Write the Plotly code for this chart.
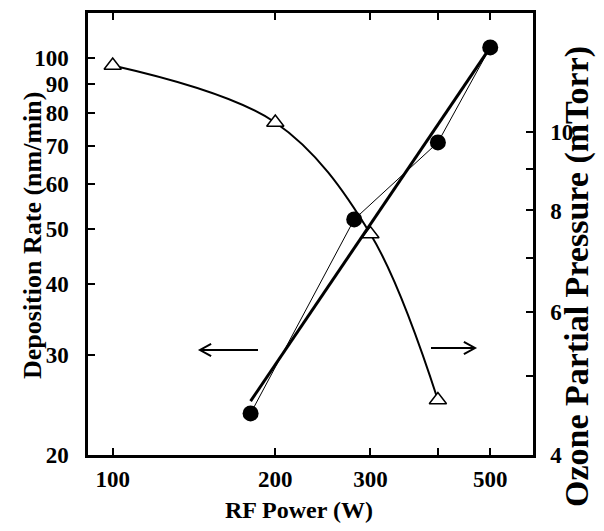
import plotly.graph_objects as go
import math

# Data
rf_power_dep = [100, 200, 300, 400]
deposition_rate = [97, 77, 49, 25]

rf_power_ozone = [180, 280, 400, 500]
ozone_pressure = [4.5, 7.8, 9.7, 12.7]

fit_power = [180, 500]
fit_pressure = [4.66, 12.7]

x_ticks = [100, 200, 300, 400, 500]
x_ticktext = ["100", "200", "300", "", "500"]
left_ticks = [20, 30, 40, 50, 60, 70, 80, 90, 100]
right_ticks = [4, 5, 6, 7, 8, 9, 10]
right_ticktext = ["4", "", "6", "", "8", "", "10"]

FONT = "Liberation Serif"
TICKFONT = dict(family=FONT, size=23, color="black", weight="bold")

# page body has an 8px default margin; compensate so the plot area lands at x 88..533, y 13..455
W, H = 596, 523
ML, MT, MR, MB = 80, 5, 71, 76
PX0, PY0 = 88, 13          # plot-area origin in screenshot pixels
PW, PH = 445, 442          # plot-area size

def px(xp):
    return (xp - PX0) / PW

def py(yp):
    return 1 - (yp - PY0) / PH

fig = go.Figure()

fig.add_trace(go.Scatter(x=rf_power_dep, y=deposition_rate, mode="lines",
                         line=dict(color="black", width=2, shape="spline", smoothing=1.0),
                         yaxis="y", showlegend=False, hoverinfo="skip"))
fig.add_trace(go.Scatter(x=rf_power_ozone, y=ozone_pressure, mode="lines",
                         line=dict(color="black", width=1),
                         yaxis="y2", showlegend=False, hoverinfo="skip"))
fig.add_trace(go.Scatter(x=fit_power, y=fit_pressure, mode="lines",
                         line=dict(color="black", width=3),
                         yaxis="y2", showlegend=False, hoverinfo="skip"))
fig.add_trace(go.Scatter(x=rf_power_dep, y=deposition_rate, mode="markers",
                         marker=dict(symbol="triangle-up", size=15, color="white",
                                     line=dict(color="black", width=1.5)),
                         yaxis="y", showlegend=False))
fig.add_trace(go.Scatter(x=rf_power_ozone, y=ozone_pressure, mode="markers",
                         marker=dict(symbol="circle", size=16, color="black",
                                     line=dict(color="black", width=0)),
                         yaxis="y2", showlegend=False))

axis_common = dict(showgrid=False, zeroline=False, linecolor="black", linewidth=2.5,
                   ticks="inside", ticklen=7, tickwidth=2, tickcolor="black",
                   tickfont=TICKFONT, automargin=False)

fig.update_layout(
    width=W, height=H,
    margin=dict(l=ML, r=MR, t=MT, b=MB),
    paper_bgcolor="white", plot_bgcolor="white",
    font=dict(family=FONT, color="black"),
    xaxis=dict(type="log", range=[math.log10(90), math.log10(600)],
               tickvals=x_ticks, ticktext=x_ticktext, mirror="ticks", ticklabelstandoff=2,
               **axis_common),
    yaxis=dict(type="log", range=[math.log10(20), math.log10(120)],
               tickvals=left_ticks, ticktext=[str(v) for v in left_ticks], ticklabelstandoff=12,
               **axis_common),
    yaxis2=dict(type="log", range=[math.log10(4), math.log10(14)], overlaying="y", side="right",
                tickvals=right_ticks, ticktext=right_ticktext, ticklabelstandoff=10,
                **axis_common),
    annotations=[
        dict(text="<b>RF Power (W)</b>", xref="paper", yref="paper",
             x=px(299), y=py(510), xanchor="center", yanchor="middle", showarrow=False,
             font=dict(family=FONT, size=24, color="black")),
        dict(text="<b>Deposition Rate (nm/min)</b>", xref="paper", yref="paper",
             x=px(32), y=py(236), xanchor="center", yanchor="middle", textangle=-90,
             showarrow=False, font=dict(family=FONT, size=26, color="black")),
        dict(text="<b>Ozone Partial Pressure (mTorr)</b>", xref="paper", yref="paper",
             x=px(577), y=py(277), xanchor="center", yanchor="middle", textangle=-90,
             showarrow=False, font=dict(family=FONT, size=34, color="black")),
    ],
)

# Arrows indicating which axis each curve belongs to (paper coordinates)
def arrow(x0, x1, y, head=0.025, hh=0.014):
    d = 1 if x1 > x0 else -1
    path = (f"M {x0} {y} L {x1} {y} "
            f"M {x1 - d*head} {y + hh} L {x1} {y} L {x1 - d*head} {y - hh}")
    return dict(type="path", xref="paper", yref="paper", path=path,
                line=dict(color="black", width=2))

fig.update_layout(shapes=[arrow(px(258), px(200), py(350)), arrow(px(431), px(475), py(348))])

fig.write_html("out.html")
